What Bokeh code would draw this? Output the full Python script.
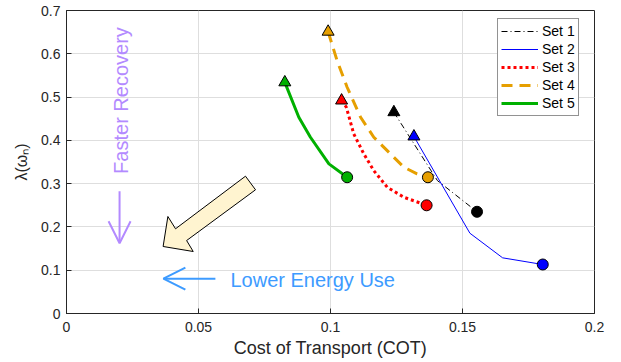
import math
from bokeh.plotting import figure
from bokeh.models import (Legend, LegendItem, Arrow, OpenHead, Label,
                          FixedTicker, Range1d)
from bokeh.embed import file_html
from bokeh.resources import INLINE

# ---------------- data ----------------
set1_x = [0.124, 0.1405, 0.1555]
set1_y = [0.465, 0.307, 0.235]

set2_x = [0.1316, 0.1528, 0.1652, 0.1804]
set2_y = [0.409, 0.1855, 0.1286, 0.1132]

set3_x = [0.1042, 0.1060, 0.1088, 0.1126, 0.1164, 0.1215, 0.1278, 0.1364]
set3_y = [0.492, 0.4765, 0.415, 0.369, 0.330, 0.2917, 0.2686, 0.250]

set4_x = [0.0991, 0.1025, 0.1063, 0.1114, 0.1164, 0.1227, 0.1278, 0.1328, 0.1369]
set4_y = [0.651, 0.584, 0.5227, 0.4534, 0.4072, 0.3688, 0.338, 0.3226, 0.3148]

set5_x = [0.0827, 0.0880, 0.0924, 0.0994, 0.1063]
set5_y = [0.534, 0.4534, 0.4072, 0.3457, 0.3148]

names = ["Set 1", "Set 2", "Set 3", "Set 4", "Set 5"]
xs = [set1_x, set2_x, set3_x, set4_x, set5_x]
ys = [set1_y, set2_y, set3_y, set4_y, set5_y]

x_ticks = [0, 0.05, 0.1, 0.15, 0.2]
x_tick_labels = ["0", "0.05", "0.1", "0.15", "0.2"]
y_ticks = [0, 0.1, 0.2, 0.3, 0.4, 0.5, 0.6, 0.7]
y_tick_labels = ["0", "0.1", "0.2", "0.3", "0.4", "0.5", "0.6", "0.7"]

# big block arrow outline (data coordinates)
block_x = [0.0678, 0.0716, 0.0455, 0.0480, 0.0366, 0.0384, 0.0413]
block_y = [0.3172, 0.2858, 0.1686, 0.1432, 0.1548, 0.2241, 0.1957]

# ---------------- styles ----------------
colors = ["#000000", "#0000ff", "#ff0000", "#e69f00", "#00b000"]
widths = [1, 1, 3, 3, 3]
dashes = ["6 3 1 3", "solid", "3 3", "11 7", "solid"]
FONT = "Liberation Sans"
DARK = "#262626"

p = figure(width=621, height=362, output_backend="svg", toolbar_location=None,
           x_range=Range1d(0, 0.2), y_range=Range1d(0, 0.7),
           min_border_left=66, min_border_right=27, min_border_top=10, min_border_bottom=49)
p.frame_width = 528
p.frame_height = 303
p.background_fill_color = "white"
p.outline_line_color = DARK
p.outline_line_width = 1

for ax in (p.xaxis[0], p.yaxis[0]):
    ax.major_tick_in = 5
    ax.major_tick_out = 0
    ax.minor_tick_in = 0
    ax.minor_tick_out = 0
    ax.axis_line_color = DARK
    ax.major_tick_line_color = DARK
    ax.major_label_text_color = DARK
    ax.major_label_text_font = FONT
    ax.major_label_text_font_size = "14px"
    ax.axis_label_text_font = FONT
    ax.axis_label_text_color = DARK
    ax.axis_label_text_font_style = "normal"

p.xaxis.ticker = FixedTicker(ticks=x_ticks)
p.xaxis.major_label_overrides = dict(zip(x_ticks, x_tick_labels))
p.yaxis.ticker = FixedTicker(ticks=y_ticks)
p.yaxis.major_label_overrides = dict(zip(y_ticks, y_tick_labels))
p.xaxis.axis_label = "Cost of Transport (COT)"
p.yaxis.axis_label = "λ(ωₙ)"
p.xaxis.axis_label_text_font_size = "18px"
p.yaxis.axis_label_text_font_size = "16px"
p.xaxis.major_label_standoff = 8
p.yaxis.major_label_standoff = 6
p.xaxis.axis_label_standoff = 3
p.yaxis.axis_label_standoff = 8

p.xgrid.ticker = FixedTicker(ticks=x_ticks)
p.ygrid.ticker = FixedTicker(ticks=y_ticks)
p.grid.grid_line_color = "#dedede"
p.grid.grid_line_width = 1

# block arrow
p.patch(block_x, block_y, fill_color="#fff4d0", line_color="black", line_width=1)

items = []
for name, x, y, c, w, d in zip(names, xs, ys, colors, widths, dashes):
    r = p.line(x, y, line_color=c, line_width=w, line_dash=d)
    p.scatter([x[0]], [y[0]], marker="triangle", size=12, fill_color=c,
              line_color="black", line_width=1)
    p.scatter([x[-1]], [y[-1]], marker="circle", size=11, fill_color=c,
              line_color="black", line_width=1)
    items.append(LegendItem(label=name, renderers=[r]))

legend = Legend(items=items, location=(431, 197), margin=0, padding=3, spacing=0,
                glyph_width=37, glyph_height=18, label_height=18, label_standoff=4,
                label_text_font=FONT, label_text_font_size="14px", label_text_color="black",
                border_line_color=DARK, border_line_width=1, background_fill_alpha=1)
p.add_layout(legend)

# annotations
purple = "#b38aff"
blue_ann = "#3d9bff"
p.add_layout(Arrow(end=OpenHead(size=22, line_color=purple, line_width=2),
                   x_start=0.0201, y_start=0.2825, x_end=0.0201, y_end=0.1624,
                   line_color=purple, line_width=2))
p.add_layout(Label(x=0.0205, y=0.492, text="Faster Recovery", angle=math.pi / 2,
                   text_align="center", text_baseline="middle", text_color=purple,
                   text_font=FONT, text_font_size="20px"))
p.add_layout(Arrow(end=OpenHead(size=22, line_color=blue_ann, line_width=2),
                   x_start=0.0564, y_start=0.0805, x_end=0.0367, y_end=0.0805,
                   line_color=blue_ann, line_width=2))
p.add_layout(Label(x=0.0621, y=0.0775, text="Lower Energy Use",
                   text_align="left", text_baseline="middle", text_color=blue_ann,
                   text_font=FONT, text_font_size="20px"))

open("out.html", "w").write(file_html(p, INLINE))
